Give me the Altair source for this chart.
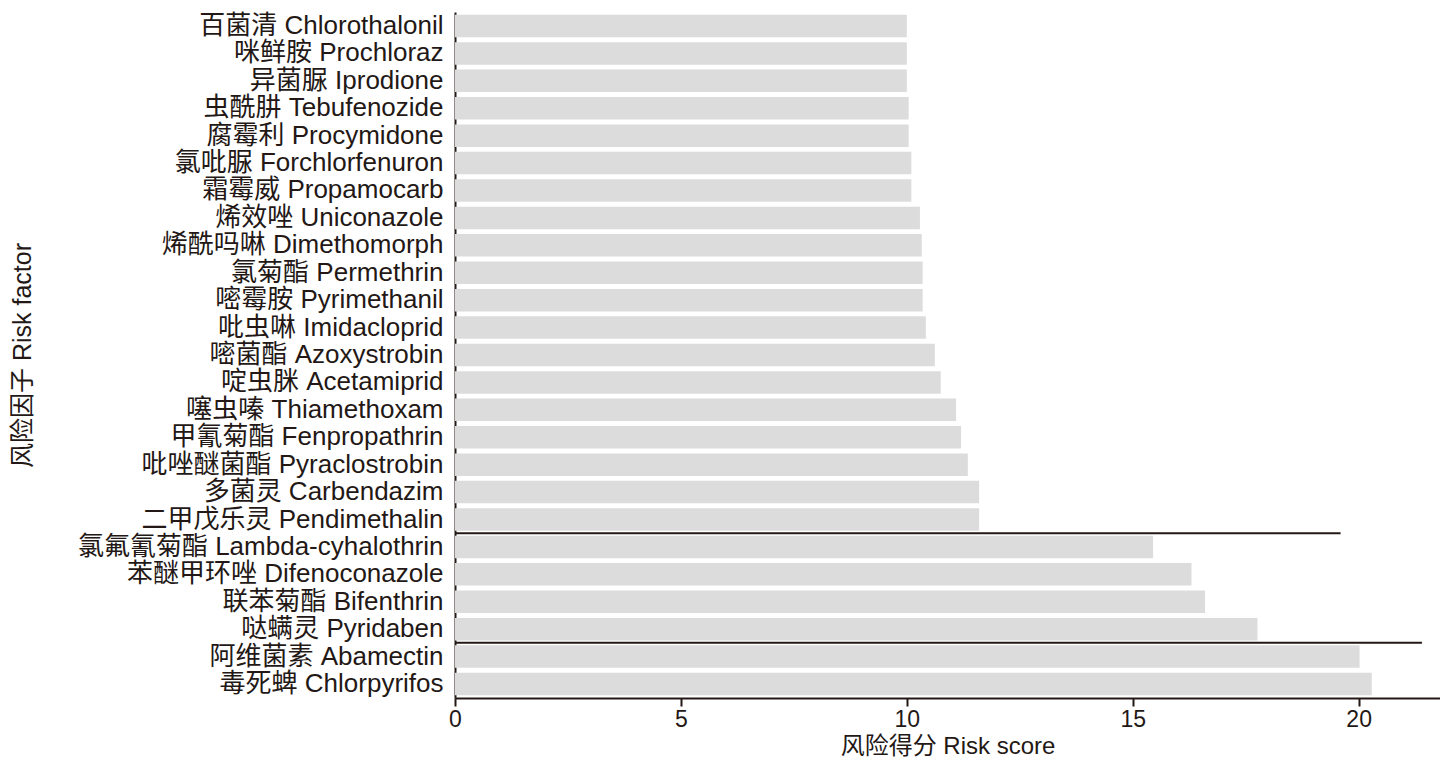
import altair as alt
import pandas as pd

cn_names = ["百菌清", "咪鲜胺", "异菌脲", "虫酰肼", "腐霉利", "氯吡脲", "霜霉威", "烯效唑",
            "烯酰吗啉", "氯菊酯", "嘧霉胺", "吡虫啉", "嘧菌酯", "啶虫脒", "噻虫嗪", "甲氰菊酯",
            "吡唑醚菌酯", "多菌灵", "二甲戊乐灵", "氯氟氰菊酯", "苯醚甲环唑", "联苯菊酯", "哒螨灵",
            "阿维菌素", "毒死蜱"]
en_names = ["Chlorothalonil", "Prochloraz", "Iprodione", "Tebufenozide", "Procymidone",
            "Forchlorfenuron", "Propamocarb", "Uniconazole", "Dimethomorph", "Permethrin",
            "Pyrimethanil", "Imidacloprid", "Azoxystrobin", "Acetamiprid", "Thiamethoxam",
            "Fenpropathrin", "Pyraclostrobin", "Carbendazim", "Pendimethalin",
            "Lambda-cyhalothrin", "Difenoconazole", "Bifenthrin", "Pyridaben",
            "Abamectin", "Chlorpyrifos"]
scores = [10.0, 10.0, 10.0, 10.04, 10.04, 10.1, 10.1, 10.29, 10.33, 10.35, 10.35, 10.42,
          10.62, 10.75, 11.09, 11.2, 11.35, 11.6, 11.6, 15.45, 16.3, 16.6, 17.76, 20.02, 20.29]

# separator lines: drawn just above these categories, spanning from 0 to the given score
sep_categories = ["Lambda-cyhalothrin", "Abamectin"]
sep_ends = [19.6, 21.4]

x_ticks = [0, 5, 10, 15, 20]
x_max = 21.8

labels = [f"{c} {e}" for c, e in zip(cn_names, en_names)]
df = pd.DataFrame({"factor": labels, "score": scores})
sep_labels = [labels[en_names.index(n)] for n in sep_categories]
sep_df = pd.DataFrame({"factor": sep_labels, "start": [0] * len(sep_ends), "end": sep_ends})

FONT = "Liberation Sans, Noto Sans CJK SC"
INK = "#231815"

y_scale = alt.Scale(domain=labels, paddingInner=0.18, paddingOuter=0.1)
x_scale = alt.Scale(domain=[0, x_max], nice=False)

bars = alt.Chart(df).mark_bar(color="#dcdcdc").encode(
    x=alt.X("score:Q", scale=x_scale,
            axis=alt.Axis(values=x_ticks, title="风险得分 Risk score", grid=False,
                          tickSize=8, tickWidth=2, labelPadding=2, labelFontSize=23,
                          labelFlush=False, titleY=48, titleBaseline="middle",
                          titleFontSize=24)),
    y=alt.Y("factor:N", scale=y_scale, sort=labels,
            axis=alt.Axis(title="风险因子 Risk factor", ticks=False, labelPadding=12,
                          labelFontSize=26, labelLimit=0, titleX=-433,
                          titleBaseline="middle", titleFontSize=25)),
)

rules = alt.Chart(sep_df).mark_rule(color=INK, strokeWidth=2, yOffset=-2.5).encode(
    x=alt.X("start:Q", scale=x_scale),
    x2="end:Q",
    y=alt.Y("factor:N", scale=y_scale, sort=labels, bandPosition=0),
)

chart = alt.layer(bars, rules).properties(
    width=985, height=686,
    background="white",
    autosize=alt.AutoSizeParams(type="none"),
    padding={"left": 447, "top": 4, "right": 0, "bottom": 62},
).configure_view(stroke=None).configure_axis(
    domainColor=INK, domainWidth=2, tickColor=INK,
    labelColor=INK, titleColor=INK,
    labelFont=FONT, titleFont=FONT,
    titleFontWeight="normal",
)

chart.save("out.html", embed_options={"renderer": "svg", "actions": False})
